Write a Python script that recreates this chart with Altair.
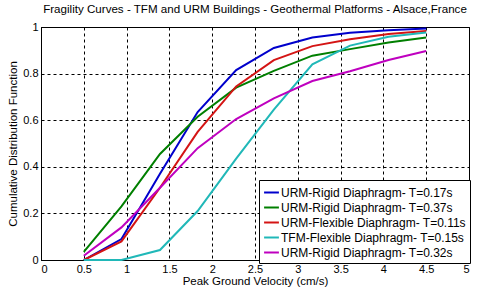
import altair as alt
import pandas as pd

pgv = [0.5, 0.94, 1.39, 1.83, 2.28, 2.72, 3.17, 3.61, 4.06, 4.5]

series_names = [
    "URM-Rigid Diaphragm- T=0.17s",
    "URM-Rigid Diaphragm- T=0.37s",
    "URM-Flexible Diaphragm- T=0.11s",
    "TFM-Flexible Diaphragm- T=0.15s",
    "URM-Rigid Diaphragm- T=0.32s",
]
series_colors = ["#0000CC", "#007F00", "#D41414", "#20B8B8", "#BF00BF"]

urm_rigid_017 = [0.0, 0.09, 0.37, 0.635, 0.815, 0.91, 0.955, 0.975, 0.986, 0.994]
urm_rigid_037 = [0.035, 0.23, 0.455, 0.615, 0.74, 0.812, 0.877, 0.905, 0.933, 0.955]
urm_flex_011 = [0.0, 0.08, 0.31, 0.55, 0.745, 0.858, 0.918, 0.947, 0.97, 0.983]
tfm_flex_015 = [0.0, 0.0, 0.043, 0.21, 0.435, 0.645, 0.84, 0.92, 0.958, 0.976]
urm_rigid_032 = [0.018, 0.14, 0.31, 0.48, 0.605, 0.694, 0.768, 0.81, 0.858, 0.897]

x_ticks = [0, 0.5, 1, 1.5, 2, 2.5, 3, 3.5, 4, 4.5, 5]
y_ticks = [0, 0.2, 0.4, 0.6, 0.8, 1]

all_series = [urm_rigid_017, urm_rigid_037, urm_flex_011, tfm_flex_015, urm_rigid_032]
rows = []
for order, (name, vals) in enumerate(zip(series_names, all_series)):
    for xv, yv in zip(pgv, vals):
        rows.append({"pgv": xv, "cdf": yv, "series": name, "ord": order})
df = pd.DataFrame(rows)

FONT = "Liberation Sans"

chart = (
    alt.Chart(df)
    .mark_line(strokeWidth=2)
    .encode(
        x=alt.X(
            "pgv:Q",
            scale=alt.Scale(domain=[0, 5], nice=False, zero=False),
            axis=alt.Axis(
                values=x_ticks,
                format="~g",
                title="Peak Ground Velocity (cm/s)",
                labelPadding=3,
                titlePadding=1,
            ),
        ),
        y=alt.Y(
            "cdf:Q",
            scale=alt.Scale(domain=[0, 1], nice=False),
            axis=alt.Axis(
                values=y_ticks,
                format="~g",
                title="Cumulative Distribution Function",
                labelPadding=3,
                titlePadding=4,
            ),
        ),
        color=alt.Color(
            "series:N",
            scale=alt.Scale(domain=series_names, range=series_colors),
            legend=alt.Legend(
                title=None,
                orient="none",
                legendX=218,
                legendY=153,
                direction="vertical",
            ),
        ),
        order=alt.Order("ord:Q"),
        detail="series:N",
    )
    .properties(
        width=428,
        height=233,
        title=alt.TitleParams(
            "Fragility Curves - TFM and URM Buildings - Geothermal Platforms - Alsace,France",
            fontSize=11.6,
            font=FONT,
            fontWeight="normal",
            color="black",
            offset=5,
        ),
        autosize=alt.AutoSizeParams(type="none"),
        padding={"left": 41, "top": 27, "right": 12, "bottom": 33},
        background="white",
    )
    .configure_view(stroke="black", strokeWidth=1)
    .configure_axis(
        grid=True,
        gridColor="black",
        gridDash=[3, 3],
        gridOpacity=1,
        gridWidth=1,
        domainColor="black",
        domainWidth=1,
        ticks=False,
        labelFont=FONT,
        labelFontSize=11,
        labelColor="black",
        titleFont=FONT,
        titleFontSize=11.5,
        titleFontWeight="normal",
        titleColor="black",
    )
    .configure_legend(
        strokeColor="black",
        fillColor="white",
        padding=4,
        labelFont=FONT,
        labelFontSize=12,
        labelColor="black",
        labelOffset=1,
        labelLimit=400,
        symbolType="stroke",
        symbolStrokeWidth=2,
        symbolSize=220,
        rowPadding=0,
        cornerRadius=0,
    )
)

chart.save("out.html", embed_options={"renderer": "svg", "actions": False})
